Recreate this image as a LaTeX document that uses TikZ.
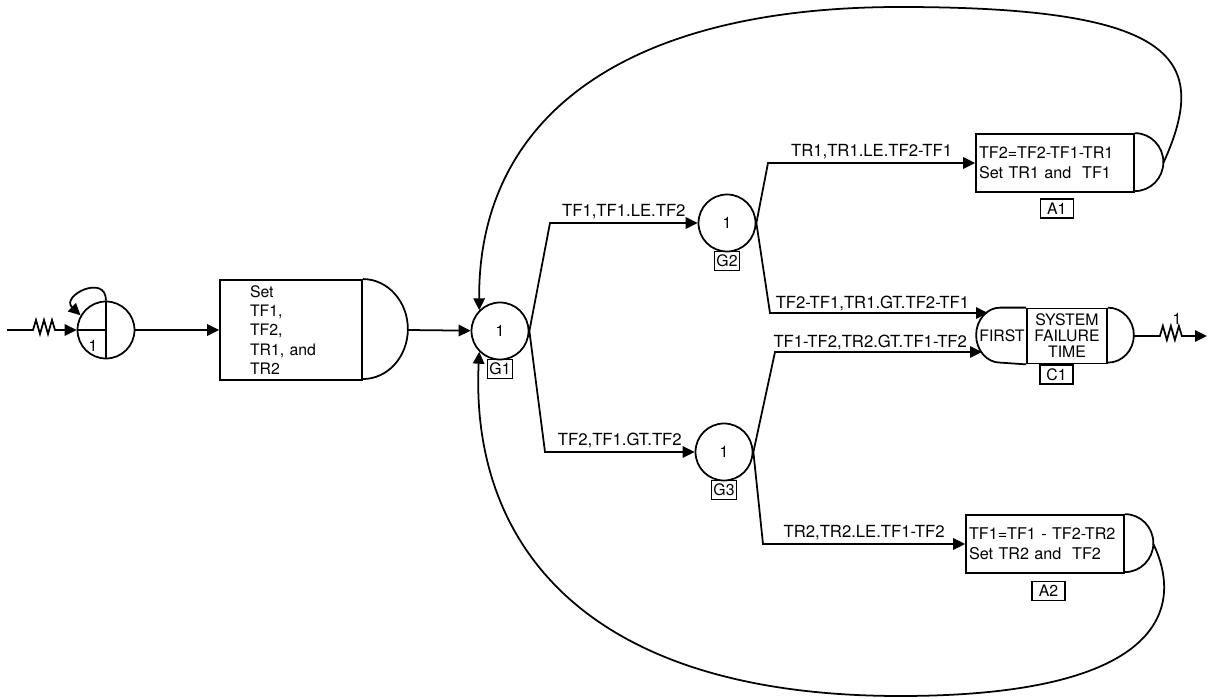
\documentclass[tikz,border=0pt]{standalone}
\usepackage{fontspec}
\setmainfont{TeX Gyre Heros}
\usetikzlibrary{arrows.meta, positioning, calc}

\begin{document}
\begin{tikzpicture}[
    x=0.02cm, y=-0.02cm,
    line width=1pt,
    >={Triangle[length=6.8pt,width=6.5pt]},
    font=\fontsize{9}{11}\selectfont,
    gate/.style={circle, draw, minimum size=1.14cm, inner sep=0pt},
    actbox/.style={
        rectangle, draw, minimum width=3.16cm, minimum height=1.16cm,
        text width=3.04cm, inner xsep=0.06cm, align=left, font=\fontsize{9.2}{11.4}\selectfont
    },
    idbox/.style={rectangle, draw, line width=0.8pt, minimum width=#1, minimum height=0.38cm, inner sep=0.5pt},
    idbox/.default=0.5cm,
    lbl/.style={above, inner sep=2pt, font=\fontsize{9.5}{11}\selectfont}
]
\useasboundingbox (0,0) rectangle (1211,699);

% entry and set-up
\coordinate (src) at (7,330);
\node[gate] (start) at (106,330) {};
\node (startn) at (93,346) {1};
\node[rectangle, draw, minimum width=2.84cm, minimum height=2cm, text width=1.64cm,
      inner xsep=0.6cm, align=left, font=\fontsize{9}{10.9}\selectfont] (set) at (291,330)
      {Set\\TF1,\\TF2,\\TR1, and\\TR2};
\coordinate (setout) at ($(set.east)+(45,0)$);

% gates
\node[gate] (G1) at (500,331) {1};
\node[gate] (G2) at (727,223) {1};
\node[gate] (G3) at (724,452) {1};
\node[idbox, below=-1pt of G1] (G1id) {G1};
\node[idbox, below=-1pt of G2] (G2id) {G2};
\node[idbox, below=-1pt of G3] (G3id) {G3};

% activities
\node[actbox] (A1) at (1055,163) {TF2=TF2-TF1-TR1\\Set TR1 and~ TF1};
\node[actbox] (A2) at (1045,544) {TF1=TF1 - TF2-TR2\\Set TR2 and~ TF2};
\coordinate (A1out) at ($(A1.east)+(28.5,0)$);
\coordinate (A2out) at ($(A2.east)+(28.5,0)$);
\node[idbox=0.66cm, below=3pt of A1, xshift=1pt] (A1id) {A1};
\node[idbox=0.66cm, below=4pt of A2, xshift=2pt] (A2id) {A2};

% first system failure time
\node[draw, minimum width=1.6cm, minimum height=1.1cm, inner sep=0pt, align=center,
      font=\fontsize{9}{9.1}\selectfont] (C1) at (1067,336) {SYSTEM\\FAILURE\\TIME};
\node (C1first) at (1002,336) {FIRST};
\coordinate (C1a) at (988,313);
\coordinate (C1b) at (982,352);
\coordinate (C1out) at ($(C1.east)+(26,0)$);
\node[idbox=0.66cm, below=0pt of C1, xshift=-0.21cm] (C1id) {C1};
\coordinate (sink) at (1207,336);
\node (outn) at (1177,319) {1};

% shapes
\draw (start.north) -- (start.south) (start.west) -- (start.center);
\draw (set.north east) arc[start angle=90, end angle=-90, x radius=0.9cm, y radius=1cm];
\draw (A1.north east) arc[start angle=90, end angle=-90, x radius=0.57cm, y radius=0.58cm];
\draw (A2.north east) arc[start angle=90, end angle=-90, x radius=0.57cm, y radius=0.58cm];
\draw (C1.north west) -- ++(-26,0) arc[start angle=90, end angle=270, x radius=0.48cm, y radius=0.55cm] -- (C1.south west);
\draw (C1.north east) arc[start angle=90, end angle=-90, x radius=0.52cm, y radius=0.55cm];

% flow
\draw[->] (src) -- ++(26,0) -- ++(3,-10) -- ++(4,14) -- ++(4,-14) -- ++(4,14) -- ++(4,-14) -- ++(3,10) -- (start.west);
\draw[->] (start.north) .. controls (106,273) and (60,296) .. (start.150);
\draw[->] (start) -- (set);
\draw[->] (setout) -- (G1);
\draw[->] (G1.east) -- (550,223) -- node[lbl]{TF1,TF1.LE.TF2} (G2.west);
\draw[->] (G1.east) -- (545,452) -- node[lbl]{TF2,TF1.GT.TF2} (G3.west);
\draw[->] (G2.east) -- (768,163) -- node[lbl]{TR1,TR1.LE.TF2-TF1} (A1.west);
\draw[->] (G2.east) -- (770,313) -- node[lbl, inner sep=0.5pt, pos=0.47]{TF2-TF1,TR1.GT.TF2-TF1} (C1a);
\draw[->] (G3.east) -- (775,352) -- node[lbl, inner sep=0.5pt, pos=0.46]{TF1-TF2,TR2.GT.TF1-TF2} (C1b);
\draw[->] (G3.east) -- (763,544) -- node[lbl]{TR2,TR2.LE.TF1-TF2} (A2.west);
\draw[->] (C1out) -- ++(26,0) -- ++(3,-10) -- ++(4,14) -- ++(4,-14) -- ++(4,14) -- ++(4,-14) -- ++(3,10) -- (sink);

% loops back to G1
\draw[->] (A1out) .. controls (1210,60) and (1180,7) .. (900,7) .. controls (620,7) and (478,120) .. (G1.135);
\draw[->] (A2out) .. controls (1185,610) and (1160,696) .. (900,696) .. controls (580,696) and (470,540) .. (G1.225);

\end{tikzpicture}
\end{document}
